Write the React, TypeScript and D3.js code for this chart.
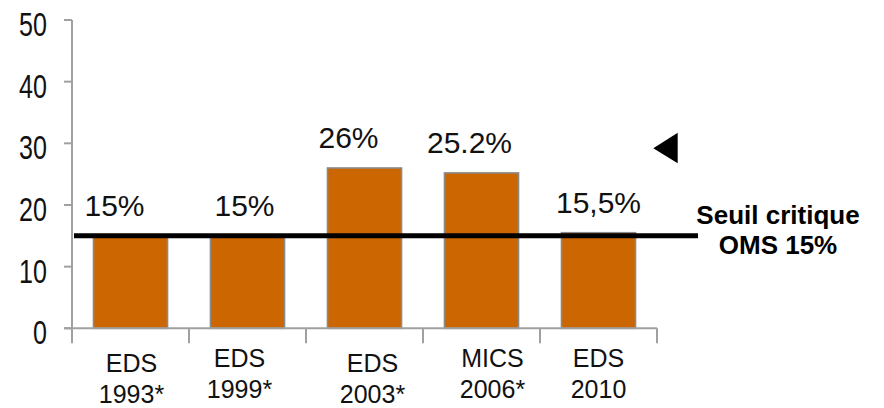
import React from "react";
import * as d3 from "d3";

// Survey rounds and the prevalence measured in each
const surveys = ["EDS|1993*", "EDS|1999*", "EDS|2003*", "MICS|2006*", "EDS|2010"];
const prevalence = [15, 15, 26, 25.2, 15.5];
const valueLabels = ["15%", "15%", "26%", "25.2%", "15,5%"];
const yTicks = [0, 10, 20, 30, 40, 50];
const threshold = 15;
const thresholdLines = ["Seuil critique", "OMS 15%"];

// Small hand nudges for the labels (px)
const valueLabelNudge = [-16, -3, -16, -12, 0];
const catLabelNudgeX = [1, -8, 8, 11, 0];
const catLabelNudgeY = [0, -5, 0, -5, -5];

const W = 884;
const H = 408;

export default function App() {
  const x = d3
    .scaleBand<string>()
    .domain(surveys)
    .range([72, 657])
    .paddingInner(0.367)
    .paddingOuter(0.1835);
  const y = d3.scaleLinear().domain([0, 50]).range([328.3, 20]);

  const axisColor = "#a0a0a0";
  const step = x.step();
  const boundaries = d3.range(surveys.length + 1).map((i) => 72 + i * step);
  const y0 = y(0);

  return (
    <svg
      width={W}
      height={H}
      style={{ position: "absolute", left: 0, top: 0, background: "#fff" }}
      fontFamily="'Liberation Sans', Arial, sans-serif"
    >
      {/* bars */}
      {surveys.map((s, i) => (
        <rect
          key={s}
          x={x(s)!}
          y={y(prevalence[i])}
          width={x.bandwidth()}
          height={y0 - y(prevalence[i])}
          fill="#CC6600"
          stroke="#8a8a8a"
          strokeWidth={1.6}
        />
      ))}

      {/* y axis */}
      <line x1={72} x2={72} y1={y(50)} y2={y0 + 15} stroke={axisColor} strokeWidth={2} />
      {yTicks.map((t) => (
        <g key={t}>
          <line x1={64} x2={72} y1={y(t)} y2={y(t)} stroke={axisColor} strokeWidth={2} />
          <text
            transform={`translate(47,${y(t) + 16}) scale(0.76,1)`}
            textAnchor="end"
            fontSize={33}
            fill="#111"
          >
            {t}
          </text>
        </g>
      ))}

      {/* x axis */}
      <line x1={64} x2={boundaries[boundaries.length - 1]} y1={y0} y2={y0} stroke={axisColor} strokeWidth={2} />
      {boundaries.slice(1).map((bx, i) => (
        <line key={i} x1={bx} x2={bx} y1={y0} y2={y0 + 15} stroke={axisColor} strokeWidth={2} />
      ))}
      {surveys.map((s, i) => {
        const [l1, l2] = s.split("|");
        const cx = x(s)! + x.bandwidth() / 2 + catLabelNudgeX[i];
        return (
          <text key={s} textAnchor="middle" fontSize={25} fill="#111">
            <tspan x={cx} y={372 + catLabelNudgeY[i]}>{l1}</tspan>
            <tspan x={cx} y={403 + catLabelNudgeY[i]}>{l2}</tspan>
          </text>
        );
      })}

      {/* value labels */}
      {surveys.map((s, i) => (
        <text
          key={s}
          x={x(s)! + x.bandwidth() / 2 + valueLabelNudge[i]}
          y={y(prevalence[i]) - 20}
          textAnchor="middle"
          fontSize={30}
          fill="#111"
        >
          {valueLabels[i]}
        </text>
      ))}

      {/* WHO critical threshold */}
      <line x1={74} x2={698} y1={y(threshold)} y2={y(threshold)} stroke="#000" strokeWidth={5} />
      <text textAnchor="middle" fontSize={26} fontWeight="bold" fill="#000">
        <tspan x={778} y={224}>{thresholdLines[0]}</tspan>
        <tspan x={778} y={254}>{thresholdLines[1]}</tspan>
      </text>
      <path d="M653.3,148.3 L677.7,132.7 L677.7,163.3 Z" fill="#000" />
    </svg>
  );
}
